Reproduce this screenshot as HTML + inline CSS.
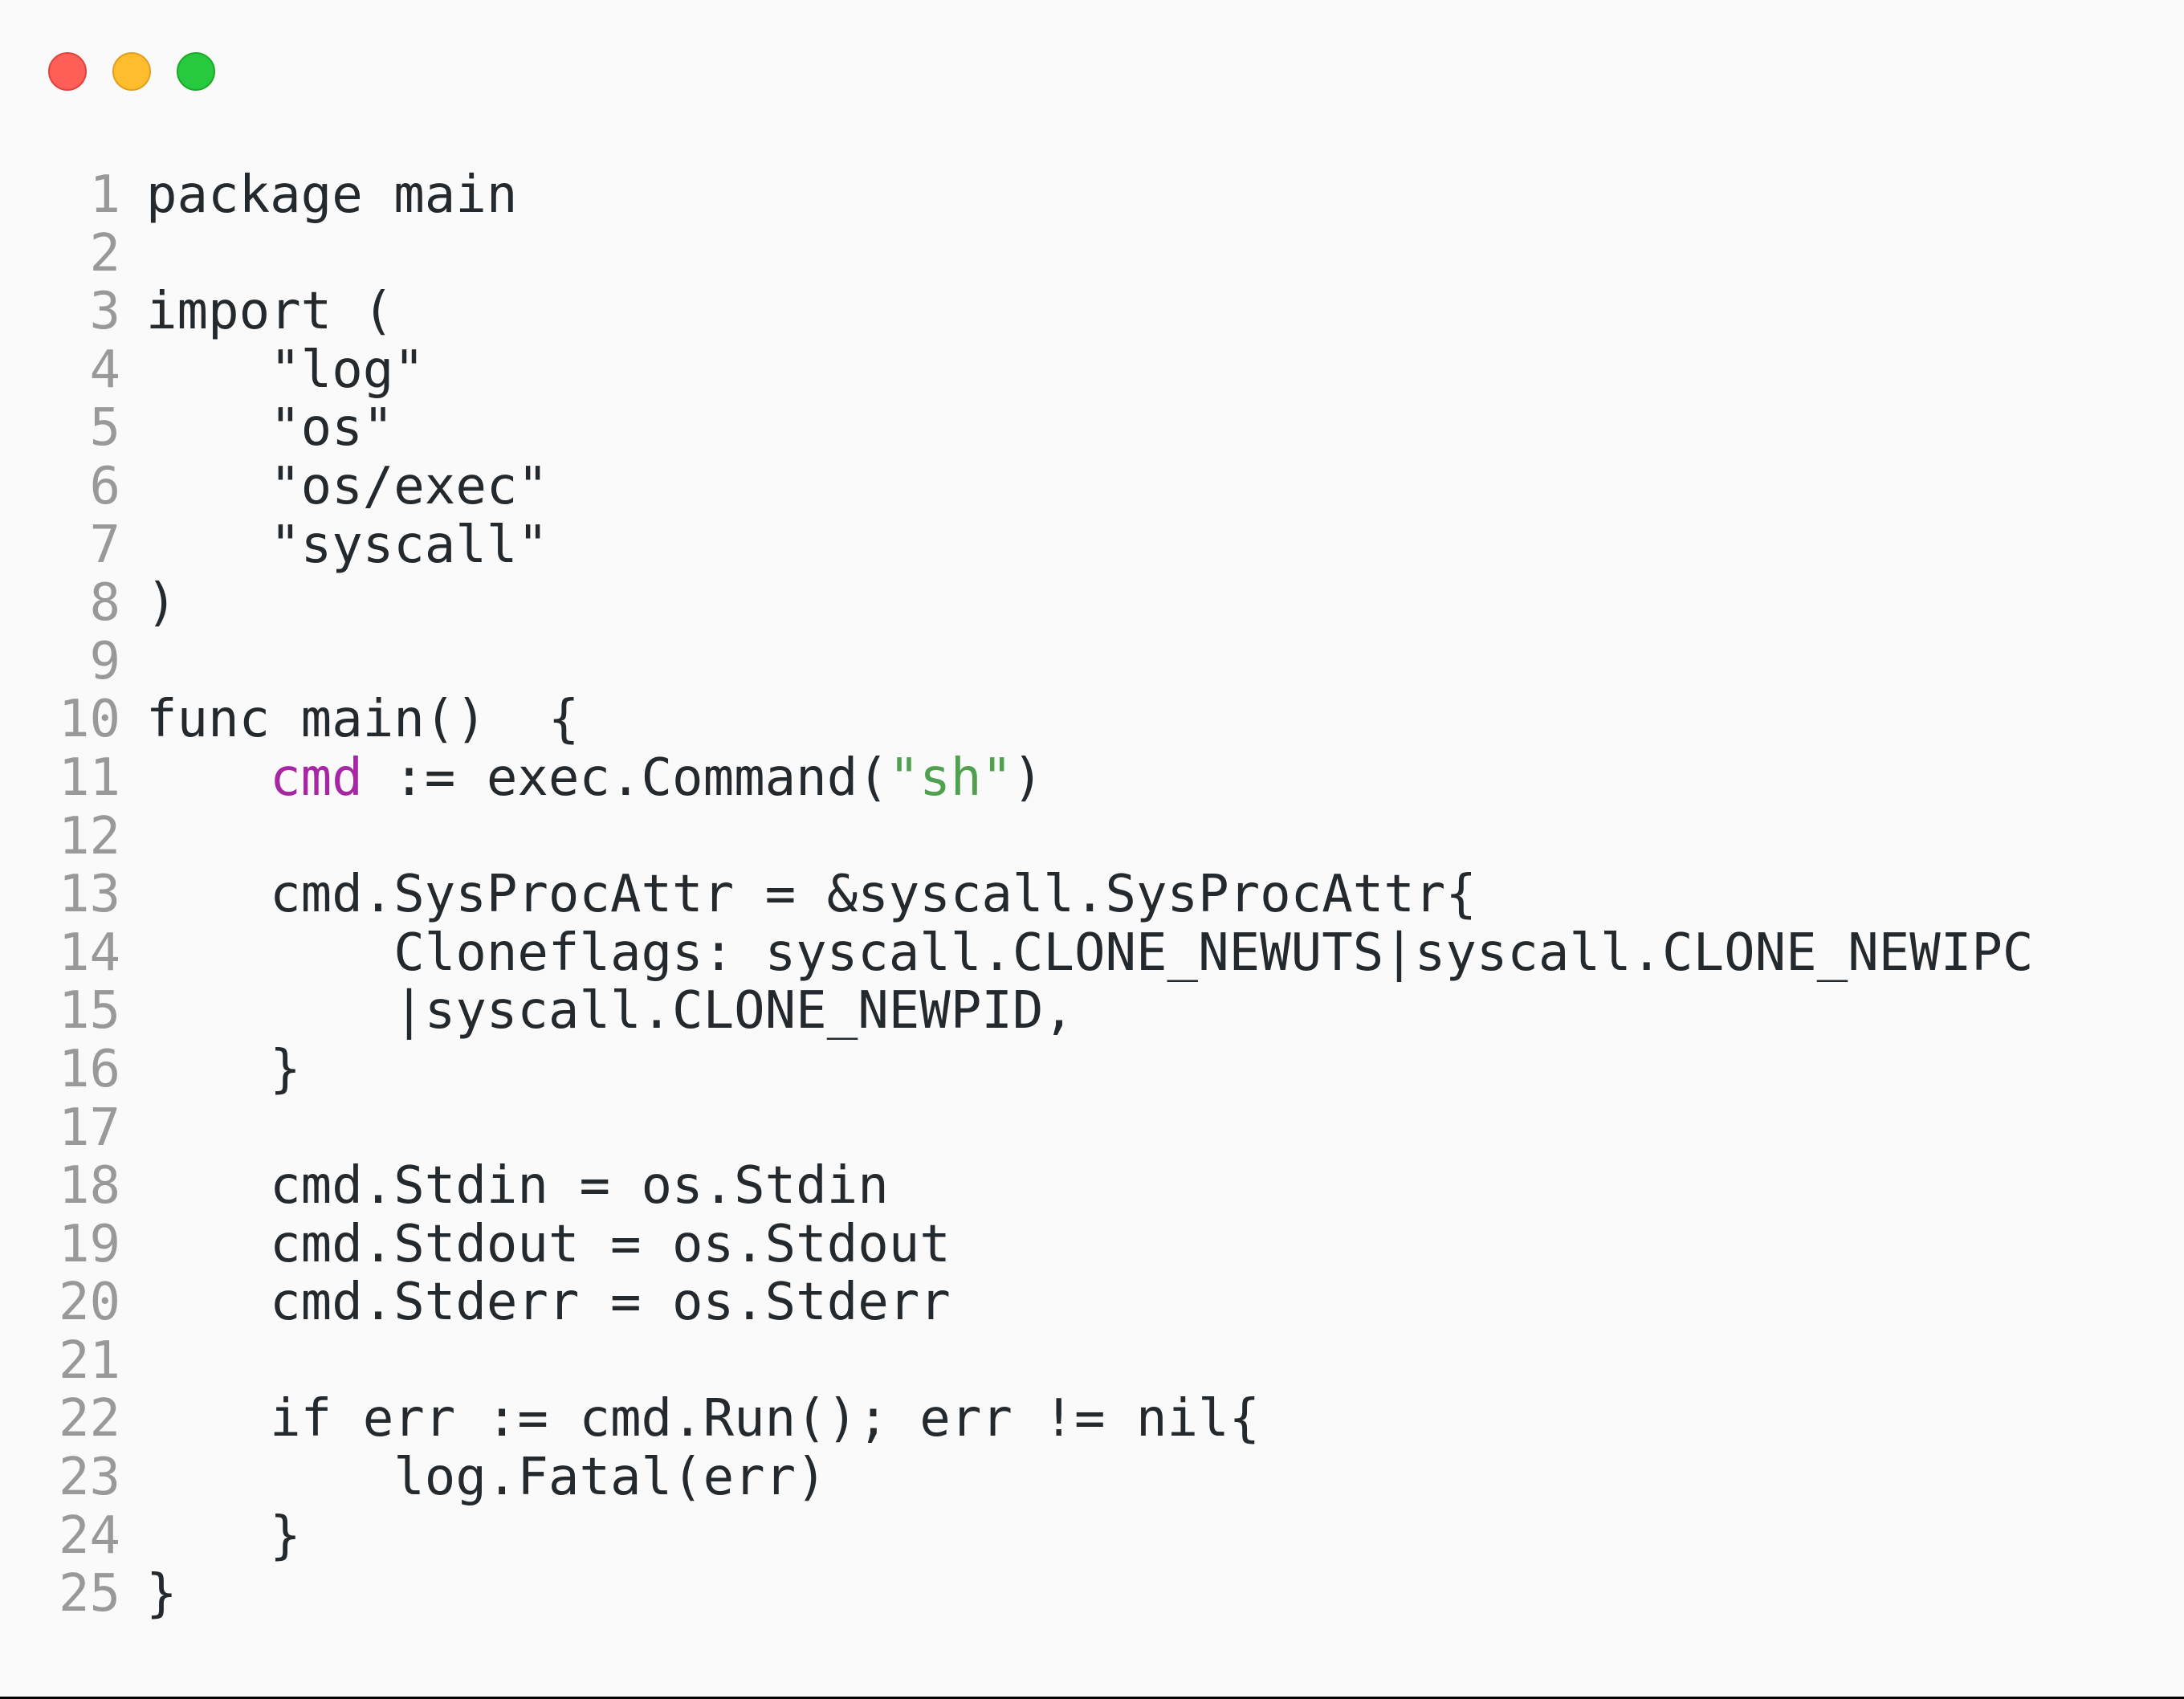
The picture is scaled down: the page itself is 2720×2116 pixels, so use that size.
<!DOCTYPE html>
<html><head><meta charset="utf-8"><style>
html,body{margin:0;padding:0;}
body{width:2720px;height:2116px;background:#fafafa;position:relative;overflow:hidden;}
.dot{position:absolute;top:65px;width:48px;height:48px;border-radius:50%;box-sizing:border-box;}
.r{left:60px;background:#ff5f56;border:2px solid #e0443e;}
.y{left:140px;background:#ffbd2e;border:2px solid #dea123;}
.g{left:220px;background:#27c93f;border:2px solid #1aab29;}
pre{margin:0;position:absolute;top:207px;font-family:"DejaVu Sans Mono","Liberation Mono",monospace;font-size:64px;line-height:72.6px;}
.ln{left:0;width:150px;text-align:right;color:#999;}
.code{left:182px;color:#24292e;}
.p{color:#a626a4}.s{color:#50a14f}
.bar{position:absolute;left:0;bottom:0;width:2720px;height:3px;background:#000;}
</style></head><body>
<div class="dot r"></div><div class="dot y"></div><div class="dot g"></div>
<pre class="ln">1
2
3
4
5
6
7
8
9
10
11
12
13
14
15
16
17
18
19
20
21
22
23
24
25</pre>
<pre class="code">package main

import (
    "log"
    "os"
    "os/exec"
    "syscall"
)

func main()  {
    <span class="p">cmd</span> := exec.Command(<span class="s">"sh"</span>)

    cmd.SysProcAttr = &amp;syscall.SysProcAttr{
        Cloneflags: syscall.CLONE_NEWUTS|syscall.CLONE_NEWIPC
        |syscall.CLONE_NEWPID,
    }

    cmd.Stdin = os.Stdin
    cmd.Stdout = os.Stdout
    cmd.Stderr = os.Stderr

    if err := cmd.Run(); err != nil{
        log.Fatal(err)
    }
}</pre>
<div class="bar"></div>
</body></html>
